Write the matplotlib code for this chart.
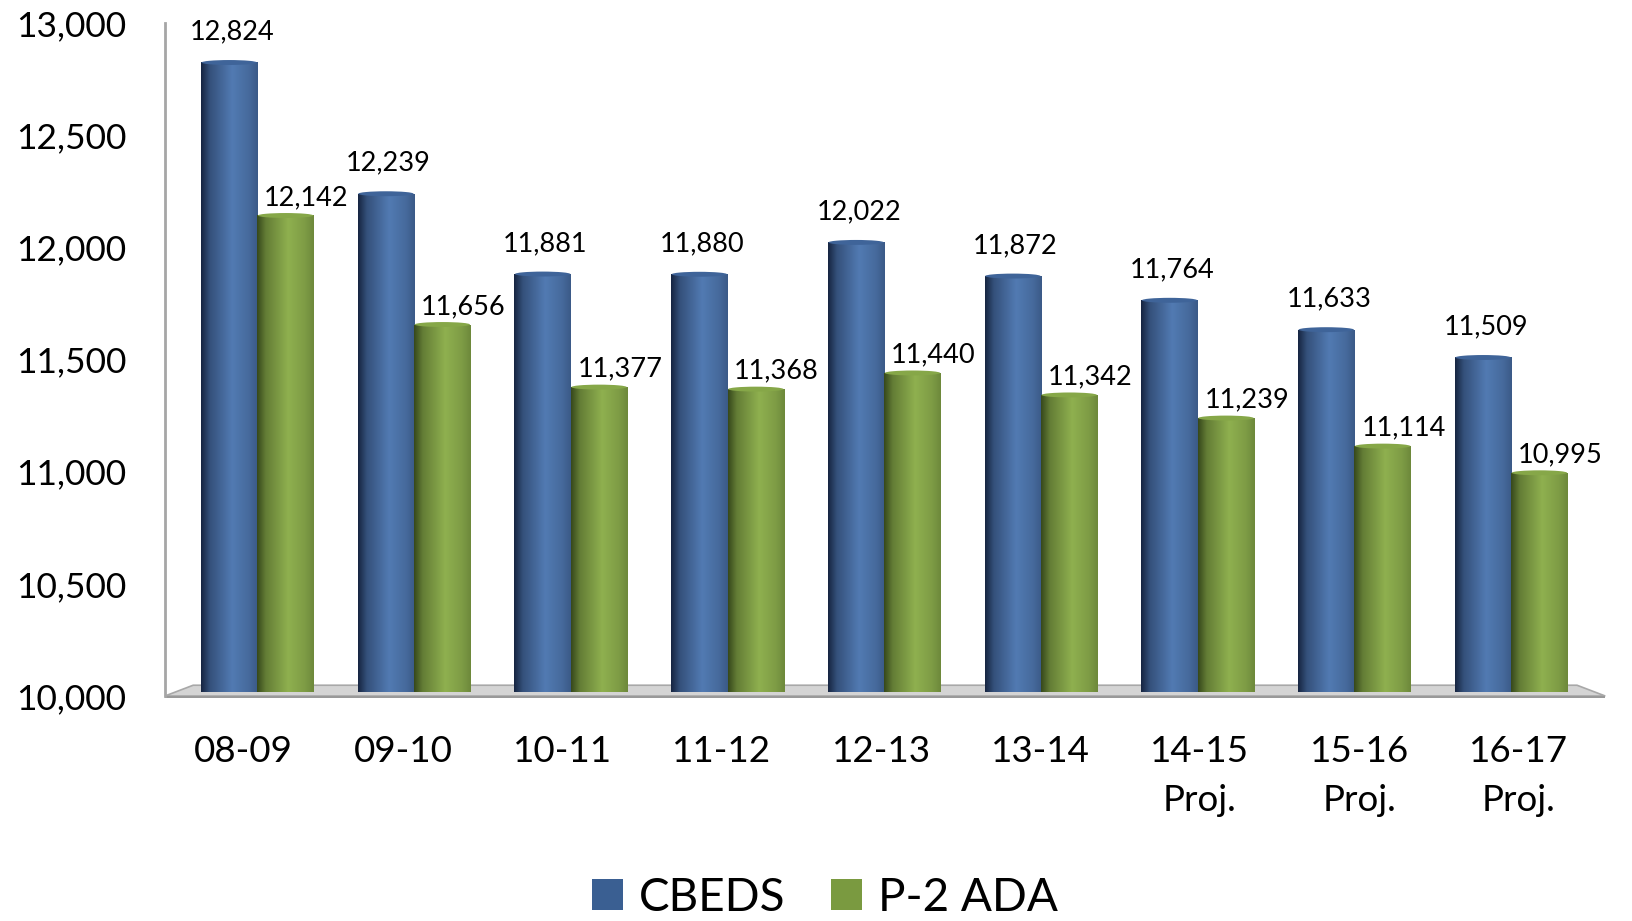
import numpy as np
import matplotlib.pyplot as plt
from matplotlib.patches import Polygon, Ellipse, Patch

plt.rcParams['font.family'] = ['Lato', 'DejaVu Sans']

years = ["08-09", "09-10", "10-11", "11-12", "12-13", "13-14",
         "14-15\nProj.", "15-16\nProj.", "16-17\nProj."]
cbeds = [12824, 12239, 11881, 11880, 12022, 11872, 11764, 11633, 11509]
p2_ada = [12142, 11656, 11377, 11368, 11440, 11342, 11239, 11114, 10995]

base = 10000
width = 0.36


def cylinder_colors(dark, light, n=64):
    # shading across the bar: dark left edge, highlight right of middle
    t = np.linspace(0, 1, n)
    mix = np.interp(t, [0, 0.15, 0.55, 0.85, 1.0], [0.0, 0.5, 1.0, 0.8, 0.62])
    dark = np.array(dark)
    light = np.array(light)
    return (dark[None, :] * (1 - mix[:, None]) + light[None, :] * mix[:, None])[None, :, :]


blue_img = cylinder_colors((0.09, 0.15, 0.26), (0.32, 0.48, 0.70))
green_img = cylinder_colors((0.22, 0.29, 0.11), (0.56, 0.69, 0.31))

fig = plt.figure(figsize=(16.33, 9.21), dpi=100)
ax = fig.add_axes([0.101, 0.2443, 0.882, 0.7307])

x = np.arange(len(years))

# floor of the chart
floor_top = Polygon([(-0.59, base), (8.6, base), (8.42, base + 48), (-0.41, base + 48)],
                    closed=True, facecolor="#d4d4d4", edgecolor="#a8a8a8", lw=1.2,
                    zorder=1, clip_on=False)
floor_front = Polygon([(-0.59, base), (8.6, base), (8.6, base - 10), (-0.59, base - 10)],
                      closed=True, facecolor="#999999", edgecolor="none",
                      zorder=1, clip_on=False)
ax.add_patch(floor_top)
ax.add_patch(floor_front)


def draw_bars(xs, vals, img, top_color):
    for xi, v in zip(xs, vals):
        ax.imshow(img, extent=(xi - width / 2, xi + width / 2, base + 20, v),
                  aspect="auto", zorder=3, interpolation="bilinear")
        ax.add_patch(Ellipse((xi, v), width * 0.98, 22, facecolor=top_color,
                             edgecolor="none", zorder=4))


draw_bars(x - width / 2, cbeds, blue_img, "#3f6499")
draw_bars(x + width / 2, p2_ada, green_img, "#86a748")

for xi, v in zip(x - width / 2, cbeds):
    ax.annotate(f"{v:,}", (xi, v), xytext=(2, 22), textcoords="offset points",
                ha="center", va="center", fontsize=19.5, zorder=5)
for xi, v in zip(x + width / 2, p2_ada):
    ax.annotate(f"{v:,}", (xi, v), xytext=(15, 13), textcoords="offset points",
                ha="center", va="center", fontsize=19.5, zorder=5)

ax.set_xlim(-0.59, 8.6)
ax.set_ylim(base, 13000)
ax.set_yticks(np.arange(10000, 13001, 500))
ax.set_yticklabels([f"{v:,}" for v in range(10000, 13001, 500)], fontsize=25.5)
# category labels sit on the front edge of the floor, spread a little wider
ax.set_xticks(x + (x - 4) * 0.017 - 0.02)
ax.set_xticklabels(years, fontsize=26.5, linespacing=1.6)
ax.tick_params(axis="y", length=0, pad=28)
ax.tick_params(axis="x", length=0, pad=28)
for side in ["top", "right", "bottom"]:
    ax.spines[side].set_visible(False)
ax.spines["left"].set_color("#a6a6a6")
ax.spines["left"].set_linewidth(2)
ax.patch.set_alpha(0)

handles = [Patch(facecolor="#3a5f92", label="CBEDS"),
           Patch(facecolor="#7a9a40", label="P-2 ADA")]
fig.legend(handles=handles, loc="center", bbox_to_anchor=(0.505, 0.025), ncol=2,
           frameon=False, fontsize=33, handlelength=0.67, handleheight=0.67,
           handletextpad=0.35, columnspacing=1.0)

fig.savefig("out.png", dpi=100)
